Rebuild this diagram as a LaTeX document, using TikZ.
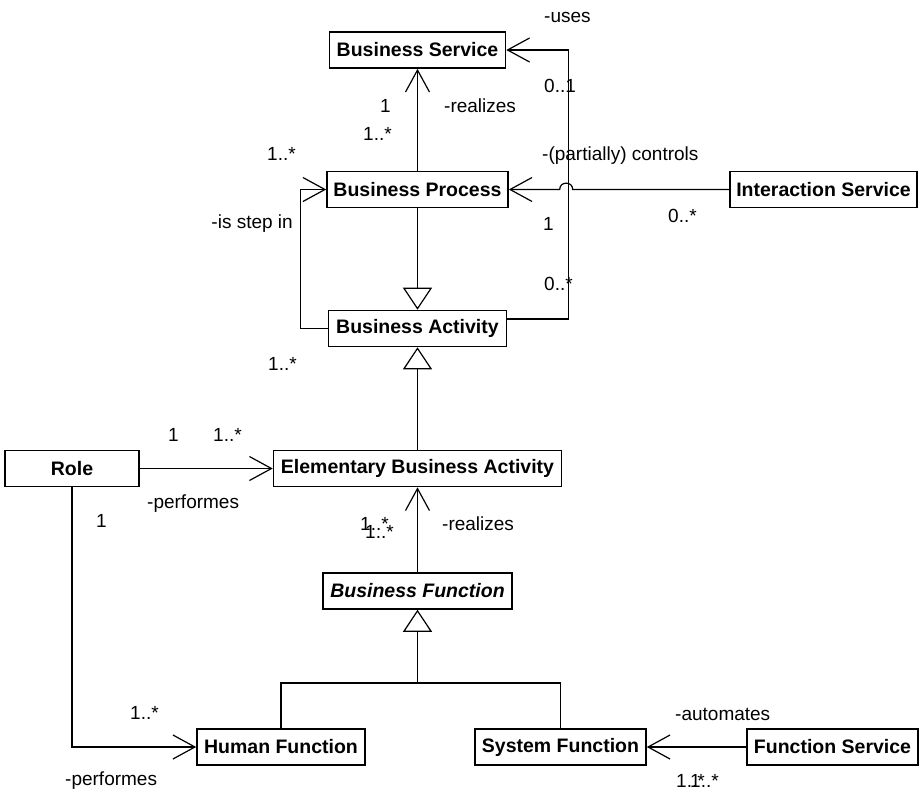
\documentclass[tikz,border=0pt]{standalone}
\usepackage{fontspec}
\setmainfont{Liberation Sans}
\usetikzlibrary{arrows.meta, positioning}

\begin{document}
\begin{tikzpicture}[x=1pt, y=-1pt]
    % Node styles
    \tikzstyle{cls} = [rectangle, draw, line width=1.6pt, inner sep=0pt, minimum height=36pt, font=\fontsize{19.5}{23}\selectfont\bfseries]
    \tikzstyle{lbl} = [inner sep=0pt, font=\fontsize{19}{22}\selectfont]
    \tikzstyle{assoc} = [-{Straight Barb[length=22pt, width=24pt]}, line width=1.2pt]
    \tikzstyle{gen} = [-{Triangle[open, length=22pt, width=29pt]}, line width=1.2pt]
    \tikzstyle{plain} = [line width=1.2pt]

    \useasboundingbox (0,0) rectangle (922,793);
    \fill[white] (0,0) rectangle (922,793);

    % Nodes
    \node (bs) [cls, minimum width=176pt] at (417.5,50) {Business Service};
    \node (bp) [cls, minimum width=181pt] at (417.5,189.5) {Business Process};
    \node (ba) [cls, minimum width=178pt] at (417.5,328.5) {Business Activity};
    \node (is) [cls, minimum width=187pt] at (823.5,189.5) {Interaction Service};
    \node (role) [cls, minimum width=134pt] at (72,468.5) {Role};
    \node (eba) [cls, minimum width=288pt] at (417.5,468.5) {Elementary Business Activity};
    \node (bf) [cls, minimum width=189pt, font=\fontsize{19.5}{23}\selectfont\bfseries\itshape] at (417.5,591) {Business Function};
    \node (hf) [cls, minimum width=168pt] at (281,747) {Human Function};
    \node (sf) [cls, minimum width=171pt] at (560.5,747) {System Function};
    \node (fs) [cls, minimum width=171pt] at (832.5,747) {Function Service};
    \coordinate (fork) at (417.5,683);

    % Connectors
    \draw[assoc] (bp.north) -- (bs.south);
    \draw[gen] (bp.south) -- (ba.north);
    \draw[assoc] (ba.west) -- ++(-27,0) |- (bp.west);
    \draw[assoc] ([yshift=9.5pt]ba.east) -- ++(61,0) |- (bs.east);
    \draw[assoc] (is.west) -- ++(-156.5,0) .. controls +(0,-8.5) and +(0,-8.5) .. ++(-13,0) -- (bp.east);
    \draw[gen] (eba.north) -- (ba.south);
    \draw[assoc] (role.east) -- (eba.west);
    \draw[assoc] (bf.north) -- (eba.south);
    \draw[assoc] (role.south) |- (hf.west);
    \draw[plain] (hf.north) |- (fork) -| (sf.north);
    \draw[gen] (fork) -- (bf.south);
    \draw[assoc] (fs.west) -- (sf.east);

    % Role names and multiplicities
    \node (lUses) [lbl, anchor=base west] at (544,22) {-uses};
    \node (mUsesA) [lbl, anchor=base west] at (544,92) {0..1};
    \node (mRealA) [lbl, anchor=base west] at (380,112) {1};
    \node (lRealA) [lbl, anchor=base west] at (444,112) {-realizes};
    \node (mRealB) [lbl, anchor=base west] at (363,140) {1..*};
    \node (mStepA) [lbl, anchor=base west] at (267,160) {1..*};
    \node (lCtrl) [lbl, anchor=base west] at (542,160) {-(partially) controls};
    \node (lStep) [lbl, anchor=base east] at (293,228) {-is step in};
    \node (mCtrlA) [lbl, anchor=base west] at (543,230) {1};
    \node (mCtrlB) [lbl, anchor=base west] at (668,222) {0..*};
    \node (mUsesB) [lbl, anchor=base west] at (544,290) {0..*};
    \node (mStepB) [lbl, anchor=base west] at (268,370) {1..*};
    \node (mPerfA) [lbl, anchor=base west] at (168,441) {1};
    \node (mPerfB) [lbl, anchor=base west] at (213,441) {1..*};
    \node (lPerfA) [lbl, anchor=base west] at (147,508) {-performes};
    \node (mPerfC) [lbl, anchor=base west] at (96,527) {1};
    \node (mRealC) [lbl, anchor=base west] at (360,530) {1..*};
    \node (mRealD) [lbl, anchor=base west] at (365,538) {1..*};
    \node (lRealB) [lbl, anchor=base west] at (442,530) {-realizes};
    \node (mPerfD) [lbl, anchor=base west] at (130,719) {1..*};
    \node (lAuto) [lbl, anchor=base west] at (675,720) {-automates};
    \node (lPerfB) [lbl, anchor=base west] at (65,785) {-performes};
    \node (mAutoA) [lbl, anchor=base west] at (676,787) {1..*};
    \node (mAutoB) [lbl, anchor=base west] at (690,787) {1..*};
\end{tikzpicture}
\end{document}
